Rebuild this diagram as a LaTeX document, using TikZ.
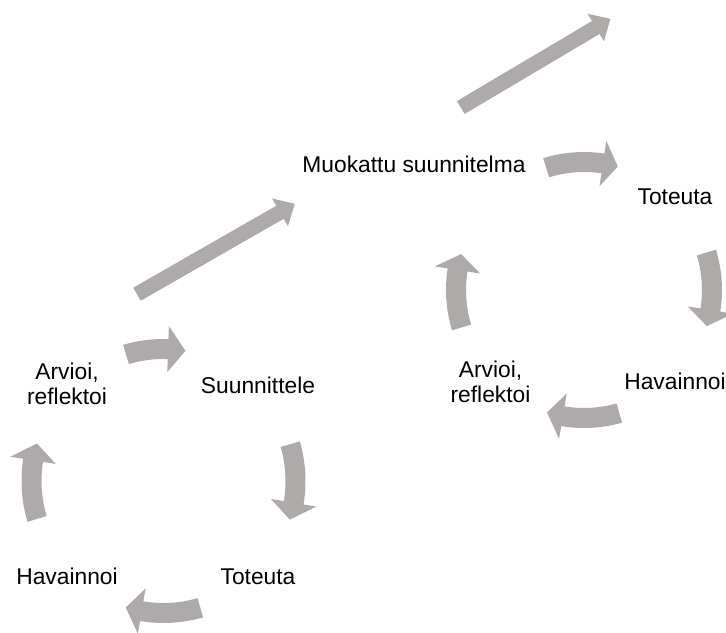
\documentclass[tikz,border=0pt]{standalone}
\usepackage{fontspec}
\setmainfont{Liberation Sans}
\definecolor{arrowgray}{RGB}{174,170,170}
\tikzset{
  lbl/.style={anchor=base, align=center, inner sep=0pt, text=black,
    font=\fontsize{17.1pt}{18.75pt}\selectfont},
  blockarrow/.style={fill=arrowgray, draw=none}
}
% curved block arrow: #1 centre, #2 radius, #3 tail angle, #4 head base angle, #5 tip angle
\newcommand{\cyclearrow}[5]{%
  \fill[blockarrow, shift={#1}]
    (#3:#2+10) arc[start angle=#3, end angle=#4, radius=#2+10]
    -- (#4:#2+23) -- (#5:#2) -- (#4:#2-23) -- (#4:#2-10)
    arc[start angle=#4, end angle=#3, radius=#2-10] -- cycle;}
% straight block arrow: #1 tail middle, #2 angle, #3 length
\newcommand{\straightarrow}[3]{%
  \fill[blockarrow, shift={#1}, rotate=#2]
    (0,-7.5) -- (#3-17,-7.5) -- (#3-17,-16) -- (#3,0) -- (#3-17,16)
    -- (#3-17,7.5) -- (0,7.5) -- cycle;}
\begin{document}
\begin{tikzpicture}[x=0.75pt,y=0.75pt]
\path[use as bounding box] (0,0) rectangle (726,633);

% left cycle
\node[lbl] (arvL) at (67,228) {Arvioi,\\reflektoi};
\node[lbl] (suun) at (258,239.7) {Suunnittele};
\node[lbl] (totL) at (258,48) {Toteuta};
\node[lbl] (havL) at (67,48) {Havainnoi};
\cyclearrow{(163.5,152)}{132}{106.5}{88}{80.4}
\cyclearrow{(163.5,152)}{132}{16.2}{-9.5}{-17}
\cyclearrow{(163.5,152)}{132}{-73.8}{-99.5}{-106.6}
\cyclearrow{(163.5,152)}{132}{196.7}{171}{163.5}

% right cycle
\node[lbl] (muok) at (414,460) {Muokattu suunnitelma};
\node[lbl] (totR) at (675,428) {Toteuta};
\node[lbl] (havR) at (675,243) {Havainnoi};
\node[lbl] (arvR) at (490.5,230) {Arvioi,\\reflektoi};
\cyclearrow{(584,343)}{128}{107.2}{81.5}{74.7}
\cyclearrow{(584,343)}{128}{17}{-9}{-16.4}
\cyclearrow{(584,343)}{128}{-74}{-99.5}{-106.8}
\cyclearrow{(584,343)}{128}{197}{171}{163.7}

% straight arrows
\straightarrow{(137,338.8)}{29.8}{181.8}
\straightarrow{(460.8,525.5)}{30.65}{173.9}
\end{tikzpicture}
\end{document}
